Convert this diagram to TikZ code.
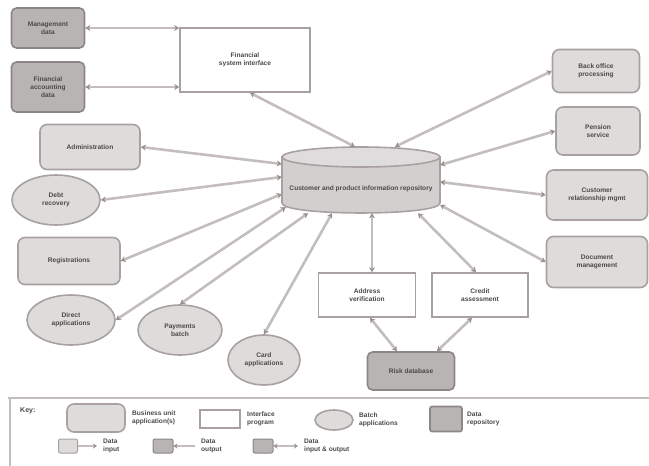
\documentclass[tikz,border=0pt]{standalone}
\usepackage{fontspec}
\setmainfont{Liberation Sans}
\usetikzlibrary{shapes.geometric,arrows.meta,calc}
\definecolor{unitfill}{HTML}{DEDBDB}
\definecolor{edge}{HTML}{A9A1A1}
\definecolor{repofill}{HTML}{B8B4B4}
\definecolor{repoedge}{HTML}{8C8686}
\definecolor{hubfill}{HTML}{D2CFCF}
\definecolor{hubtop}{HTML}{DEDCDC}
\definecolor{linkc}{HTML}{C4BDBD}
\definecolor{tipc}{HTML}{988F8F}
\definecolor{txt}{HTML}{4E4848}
\begin{document}
\begin{tikzpicture}[x=1pt,y=-1pt,
  every node/.style={font=\fontsize{6.6}{7.8}\selectfont\bfseries, text=txt, align=center, inner sep=2pt},
  unit/.style={draw=edge, fill=unitfill, line width=1.6pt, rounded corners=7pt},
  iface/.style={draw=edge, fill=white, line width=1.6pt},
  batch/.style={ellipse, draw=edge, fill=unitfill, line width=1.6pt, inner sep=0pt},
  repo/.style={draw=repoedge, fill=repofill, line width=1.6pt, rounded corners=5pt},
  link/.style={draw=linkc, line width=2.6pt,
    {Stealth[length=5pt,width=6pt,color=tipc]}-{Stealth[length=5pt,width=6pt,color=tipc]}},
  keytext/.style={anchor=west, align=left},
]
\useasboundingbox (0,0) rectangle (649,466);

% central repository, drawn as a flat cylinder
\node[minimum width=158pt, minimum height=66pt, inner sep=0pt] (hub) at (361,180) {};
\filldraw[fill=hubfill, draw=edge, line width=1.6pt]
  (282,157) -- (282,203) .. controls (282,216.3) and (440,216.3) .. (440,203)
  -- (440,157) -- cycle;
\filldraw[fill=hubtop, draw=edge, line width=1.6pt] (361,157) ellipse [x radius=79, y radius=10];
\node (hubtxt) at (361,189) {Customer and product information repository};

% data repositories top left and interface program
\node[repo, minimum width=73pt, minimum height=40pt] (r1) at (48,28) {Management\\data};
\node[repo, minimum width=73pt, minimum height=50pt] (r2) at (48,87) {Financial\\accounting\\data};
\node[iface, minimum width=130pt, minimum height=64pt] (ifc) at (245,60) {Financial\\system interface};

% business unit applications and batch applications on the left
\node[unit, minimum width=100pt, minimum height=45pt] (a1) at (90,147) {Administration};
\node[batch, minimum width=88pt, minimum height=50pt] (e1) at (56,200) {Debt\\recovery};
\node[unit, minimum width=102pt, minimum height=47pt] (a2) at (69,261) {Registrations};
\node[batch, minimum width=88pt, minimum height=50pt] (e2) at (71,320) {Direct\\applications};
\node[batch, minimum width=84pt, minimum height=50pt] (e3) at (180,330) {Payments\\batch};
\node[batch, minimum width=72pt, minimum height=50pt] (e4) at (264,360) {Card\\applications};

% business unit applications on the right
\node[unit, minimum width=87pt, minimum height=43pt] (b1) at (596,71) {Back office\\processing};
\node[unit, minimum width=84pt, minimum height=48pt] (b2) at (598,131) {Pension\\service};
\node[unit, minimum width=101pt, minimum height=50pt] (b3) at (597,195) {Customer\\relationship mgmt};
\node[unit, minimum width=101pt, minimum height=51pt] (b4) at (597,262) {Document\\management};

% interface programs and repository at the bottom
\node[iface, minimum width=97pt, minimum height=44pt] (i2) at (367,295) {Address\\verification};
\node[iface, minimum width=96pt, minimum height=44pt] (i3) at (480,295) {Credit\\assessment};
\node[repo, minimum width=87pt, minimum height=38pt] (r3) at (411,371) {Risk database};

% data flows
\draw[link] (r1.east) -- (r1.east -| ifc.west);
\draw[link] (r2.east) -- (r2.east -| ifc.west);
\draw[link] ($(ifc.south)+(5,0)$) -- ($(hub.north)+(-6,0)$);
\draw[link] (b1.west) -- ($(hub.north)+(34,0)$);
\draw[link] (b2.west) -- ($(hub.east)+(0,-15)$);
\draw[link] (b3.west) -- ($(hub.east)+(0,2)$);
\draw[link] (b4.west) -- ($(hub.east)+(0,25)$);
\draw[link] ($(i3.north)+(-4,0)$) -- ($(hub.south)+(57,0)$);
\draw[link] ($(i2.north)+(5,0)$) -- ($(hub.south)+(11,0)$);
\draw[link] (e4.north) -- ($(hub.south)+(-29,0)$);
\draw[link] (e3.north) -- ($(hub.south)+(-53,0)$);
\draw[link] (e2.east) -- ($(hub.south west)+(4,-6)$);
\draw[link] (a2.east) -- ($(hub.west)+(0,14)$);
\draw[link] (e1.east) -- ($(hub.west)+(0,-3)$);
\draw[link] (a1.east) -- ($(hub.west)+(0,-16)$);
\draw[link] ($(i2.south)+(3,0)$) -- ($(r3.north)+(-14,0)$);
\draw[link] ($(i3.south)+(-8,0)$) -- ($(r3.north)+(26,0)$);

% key
\draw[draw=linkc, line width=2pt] (8,398) -- (649,398);
\draw[draw=linkc, line width=2pt] (10,398) -- (10,466);
\node[anchor=west, font=\fontsize{7}{8}\selectfont\bfseries] (keyhead) at (18,411) {Key:};
\node[unit, minimum width=58pt, minimum height=28pt] (k1) at (96,418) {};
\node[keytext] (k1t) at (130,418) {Business unit\\application(s)};
\node[iface, minimum width=40pt, minimum height=18pt] (k2) at (220,419) {};
\node[keytext] (k2t) at (245,419) {Interface\\program};
\node[batch, minimum width=38pt, minimum height=20pt] (k3) at (334,420) {};
\node[keytext] (k3t) at (357,420) {Batch\\applications};
\node[repo, minimum width=32pt, minimum height=25pt, rounded corners=2pt] (k4) at (446,419) {};
\node[keytext] (k4t) at (465,419) {Data\\repository};

\node[unit, minimum width=19pt, minimum height=14pt, rounded corners=2pt, line width=1pt] (k5) at (68,446) {};
\coordinate (k5e) at (97,446);
\draw[draw=linkc, line width=1.6pt, -{Stealth[length=4pt,width=5pt,color=tipc]}] (k5.east) -- (k5e);
\node[keytext] (k5t) at (101,446) {Data\\input};
\node[repo, minimum width=20pt, minimum height=14pt, rounded corners=2pt, line width=1pt] (k6) at (163,446) {};
\coordinate (k6e) at (195,446);
\draw[draw=linkc, line width=1.6pt, {Stealth[length=4pt,width=5pt,color=tipc]}-] (k6.east) -- (k6e);
\node[keytext] (k6t) at (199,446) {Data\\output};
\node[repo, minimum width=20pt, minimum height=14pt, rounded corners=2pt, line width=1pt] (k7) at (263,446) {};
\coordinate (k7e) at (298,446);
\draw[draw=linkc, line width=1.6pt,
  {Stealth[length=4pt,width=5pt,color=tipc]}-{Stealth[length=4pt,width=5pt,color=tipc]}] (k7.east) -- (k7e);
\node[keytext] (k7t) at (302,446) {Data\\input \& output};
\end{tikzpicture}
\end{document}
